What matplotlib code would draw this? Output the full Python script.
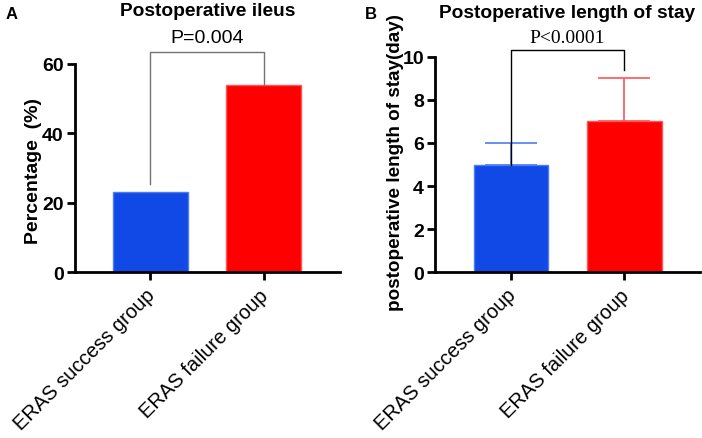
import numpy as np
import matplotlib
matplotlib.use("Agg")
import matplotlib.pyplot as plt
from matplotlib.transforms import ScaledTranslation

plt.rcParams["font.family"] = ["Liberation Sans", "DejaVu Sans"]

# ---- data ----------------------------------------------------------------
groups = ["ERAS success group", "ERAS failure group"]
ileus_pct = [23, 54]                 # panel A, percentage
los_median = [5, 7]                  # panel B, days
los_err_up = [1, 2]                  # upper error bar
p_ileus = "P=0.004"
p_los = "P<0.0001"

bar_colors = ["#1149E6", "#FF0000"]
err_colors = ["#4D7BF2", "#FF5555"]

fig = plt.figure(figsize=(7.02, 4.39), dpi=100)
axA = fig.add_axes([0.1068, 0.378, 0.3775, 0.474])
axB = fig.add_axes([0.6197, 0.378, 0.3775, 0.490])

x = np.arange(len(groups))
shift = ScaledTranslation(-5 / 100, 0, fig.dpi_scale_trans)

def style(ax):
    for s in ("top", "right"):
        ax.spines[s].set_visible(False)
    for s in ("left", "bottom"):
        ax.spines[s].set_linewidth(2)
    ax.tick_params(axis="both", width=2, length=6, direction="out")
    ax.tick_params(axis="y", labelsize=14, pad=2)
    for lab in ax.get_yticklabels():
        lab.set_fontweight("bold")
    ax.set_xticks(x)
    ax.set_xticklabels(groups, rotation=45, ha="right", rotation_mode="anchor",
                       fontsize=14.5)
    for lab in ax.get_xticklabels():
        lab.set_transform(lab.get_transform() + shift)

# -- panel A ---------------------------------------------------------------
axA.bar(x, ileus_pct, width=0.66, color=bar_colors, edgecolor=err_colors, lw=1)
axA.set_ylim(0, 60); axA.set_xlim(-0.665, 1.67)
axA.set_yticks([0, 20, 40, 60])
style(axA)
axA.set_ylabel("Percentage  (%)", fontsize=14, fontweight="bold")
axA.yaxis.set_label_coords(-0.125, 0.49)
axA.plot([0, 0, 1, 1], [25.4, 63.5, 63.5, ileus_pct[1]], color="0.45", lw=1,
         clip_on=False)
axA.text(0.5, 65.3, p_ileus, ha="center", va="bottom", fontsize=14)
axA.set_title("Postoperative ileus", fontsize=13.8, fontweight="bold", pad=35)
fig.text(0.008, 0.985, "A", fontsize=12, fontweight="bold", va="top")

# -- panel B ---------------------------------------------------------------
axB.bar(x, los_median, width=0.66, color=bar_colors, edgecolor=err_colors, lw=1)
for xi, m, e, c in zip(x, los_median, los_err_up, err_colors):
    axB.errorbar(xi, m, yerr=[[0], [e]], color=c, lw=1.2, capsize=19,
                 capthick=1.2)
axB.set_ylim(0, 10); axB.set_xlim(-0.67, 1.67)
axB.set_yticks([0, 2, 4, 6, 8, 10])
style(axB)
axB.set_ylabel("postoperative length of stay(day)", fontsize=13.6,
               fontweight="bold")
axB.yaxis.set_label_coords(-0.118, 0.515)
axB.plot([0, 0, 1, 1], [los_median[0], 10.33, 10.33, 9.4], color="black",
         lw=1, clip_on=False)
axB.text(0.5, 10.5, p_los, ha="center", va="bottom", fontsize=14,
         family=["Liberation Serif", "DejaVu Serif"])
axB.set_title("Postoperative length of stay", fontsize=13.8, fontweight="bold",
              pad=29)
fig.text(0.52, 0.985, "B", fontsize=12, fontweight="bold", va="top")

fig.savefig("out.png", dpi=100)
